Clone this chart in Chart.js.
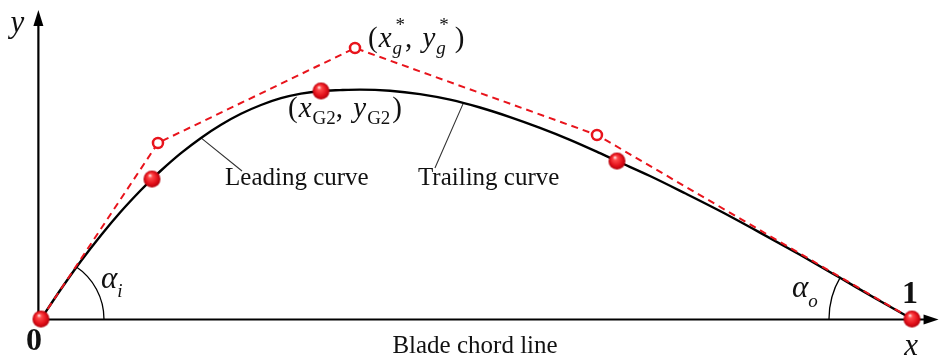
<!DOCTYPE html>
<html>
<head>
<meta charset="utf-8">
<script src="https://cdn.jsdelivr.net/npm/chart.js@4/dist/chart.umd.min.js"></script>
<style>
  html, body { margin: 0; padding: 0; background: #ffffff; }
  #wrap { width: 939px; height: 358px; }
</style>
</head>
<body>
<div id="wrap"><canvas id="blade" width="939" height="358"></canvas></div>
<script>
// Blade camber line, normalised by the chord (x/c, y/c): leading curve up to the G2 joint, then trailing curve
const camberX = [0, 0.0230, 0.0459, 0.0689, 0.0918, 0.1148, 0.1274, 0.1378, 0.1607, 0.1837,
                 0.2067, 0.2296, 0.2526, 0.2755, 0.2985, 0.3215,
                 0.3433, 0.3662, 0.4007, 0.4351, 0.4696, 0.5040, 0.5385, 0.5729, 0.6073,
                 0.6418, 0.6613, 0.6992, 0.7394, 0.7796, 0.8255, 0.8714, 0.9173, 0.9587, 1];
const camberY = [0, 0.0344, 0.0666, 0.0962, 0.1234, 0.1481, 0.1607, 0.1705, 0.1904, 0.2079,
                 0.2230, 0.2356, 0.2457, 0.2535, 0.2588, 0.2618,
                 0.2628, 0.2634, 0.2621, 0.2582, 0.2518, 0.2428, 0.2318, 0.2194, 0.2057,
                 0.1904, 0.1814, 0.1642, 0.1444, 0.1240, 0.0992, 0.0737, 0.0473, 0.0233, 0];

// Control polygon (dashed) with its open control points
const polyX = [0, 0.1343, 0.3605, 0.6383, 1];
const polyY = [0, 0.2021, 0.3111, 0.2113, 0];

// Points lying on the camber line: leading edge, leading point, G2 joint, trailing point, trailing edge
const knotX = [0, 0.1274, 0.3215, 0.6613, 1];
const knotY = [0, 0.1607, 0.2618, 0.1814, 0];

const zip = (xs, ys) => xs.map((x, i) => ({ x: x, y: ys[i] }));

const RED = '#e8141c';
const SERIF = "'Liberation Serif', 'Times New Roman', serif";

// Shaded red ball used as the marker for points on the curve
function makeBall(r) {
  const s = 2 * r + 2;
  const c = document.createElement('canvas');
  c.width = s; c.height = s;
  const g = c.getContext('2d');
  const cx = s / 2, cy = s / 2;
  const grad = g.createRadialGradient(cx - r * 0.25, cy - r * 0.45, r * 0.05, cx, cy, r);
  grad.addColorStop(0, '#ffe4e4');
  grad.addColorStop(0.22, '#ff4a4a');
  grad.addColorStop(0.7, '#e3101a');
  grad.addColorStop(1, '#b0000a');
  g.fillStyle = grad;
  g.beginPath();
  g.arc(cx, cy, r, 0, Math.PI * 2);
  g.fill();
  return c;
}
const ball = makeBall(8.5);

// Draws a run of text pieces; a piece may carry a stacked superscript
function drawRun(ctx, x, y, parts) {
  let cx = x;
  parts.forEach(p => {
    ctx.font = p.font;
    ctx.fillText(p.t, cx, y + (p.dy || 0));
    let w = ctx.measureText(p.t).width;
    if (p.sup) {
      ctx.font = p.sup.font;
      ctx.fillText(p.sup.t, cx + (p.sup.dx || 0), y + p.sup.dy);
      w = Math.max(w, ctx.measureText(p.sup.t).width + (p.sup.dx || 0));
    }
    cx += w + (p.gap || 0);
  });
}

const annotations = {
  id: 'bladeAnnotations',
  beforeDatasetsDraw(chart) {
    const ctx = chart.ctx;
    const X = v => chart.scales.x.getPixelForValue(v);
    const Y = v => chart.scales.y.getPixelForValue(v);
    ctx.save();
    ctx.strokeStyle = '#000';
    ctx.fillStyle = '#000';
    ctx.lineWidth = 2.2;

    // x axis (chord line) with arrow
    const x0 = X(-0.003), y0 = Y(0) + 0.5;
    const xTip = X(1.0305);
    ctx.beginPath();
    ctx.moveTo(x0, y0);
    ctx.lineTo(xTip - 10, y0);
    ctx.stroke();
    ctx.beginPath();
    ctx.moveTo(xTip, y0);
    ctx.lineTo(xTip - 15, y0 - 5);
    ctx.lineTo(xTip - 15, y0 + 5);
    ctx.closePath();
    ctx.fill();

    // y axis with arrow
    const yTip = Y(0.3548);
    ctx.beginPath();
    ctx.moveTo(x0, y0);
    ctx.lineTo(x0, yTip + 10);
    ctx.stroke();
    ctx.beginPath();
    ctx.moveTo(x0, yTip);
    ctx.lineTo(x0 - 5, yTip + 16);
    ctx.lineTo(x0 + 5, yTip + 16);
    ctx.closePath();
    ctx.fill();

    // inlet and outlet angle arcs
    ctx.lineWidth = 1.3;
    const unit = X(1) - X(0);
    ctx.beginPath();
    ctx.arc(X(0), Y(0), 0.0723 * unit, -56.5 * Math.PI / 180, 0);
    ctx.stroke();
    ctx.beginPath();
    ctx.arc(X(1), Y(0), 0.0953 * unit, Math.PI, Math.PI + 30.5 * Math.PI / 180);
    ctx.stroke();

    // leader lines to the curve labels
    ctx.strokeStyle = '#333';
    ctx.lineWidth = 1.1;
    ctx.beginPath();
    ctx.moveTo(X(0.1837), Y(0.2079));
    ctx.lineTo(X(0.2308), Y(0.1699));
    ctx.moveTo(X(0.4845), Y(0.2470));
    ctx.lineTo(X(0.4523), Y(0.1734));
    ctx.stroke();
    ctx.restore();
  },
  afterDatasetsDraw(chart) {
    const ctx = chart.ctx;
    const X = v => chart.scales.x.getPixelForValue(v);
    const Y = v => chart.scales.y.getPixelForValue(v);
    ctx.save();
    ctx.fillStyle = '#111';
    ctx.textBaseline = 'alphabetic';

    const reg = s => s + 'px ' + SERIF;
    const ita = s => 'italic ' + s + 'px ' + SERIF;
    const bold = s => 'bold ' + s + 'px ' + SERIF;

    // axis names and chord ends
    ctx.textAlign = 'center';
    ctx.font = ita(31);
    ctx.fillText('y', X(-0.0270), Y(0.3295));
    ctx.fillText('x', X(0.9989), Y(-0.0413));
    ctx.font = bold(32);
    ctx.fillText('0', X(-0.0080), Y(-0.0356));
    ctx.fillText('1', X(0.9977), Y(0.0184));
    ctx.font = reg(25);
    ctx.fillText('Blade chord line', X(0.4983), Y(-0.0390));

    ctx.textAlign = 'left';
    ctx.fillText('Leading curve', X(0.2113), Y(0.1538));
    ctx.fillText('Trailing curve', X(0.4328), Y(0.1538));

    // angle symbols
    drawRun(ctx, X(0.0689), Y(0.0356), [
      { t: '\u03b1', font: ita(31) },
      { t: 'i', font: ita(19), dy: 9 }
    ]);
    drawRun(ctx, X(0.8622), Y(0.0253), [
      { t: '\u03b1', font: ita(31) },
      { t: 'o', font: ita(19), dy: 10 }
    ]);

    // coordinates of the peak control point
    drawRun(ctx, X(0.3754), Y(0.3123), [
      { t: '(', font: reg(29), gap: 1 },
      { t: 'x', font: ita(29), gap: 1 },
      { t: 'g', font: ita(19), dy: 7, sup: { t: '*', font: reg(19), dy: -16, dx: 3 } },
      { t: ', ', font: reg(29), gap: 3 },
      { t: 'y', font: ita(29), gap: 1 },
      { t: 'g', font: ita(19), dy: 7, sup: { t: '*', font: reg(19), dy: -16, dx: 3 }, gap: 6 },
      { t: ')', font: reg(29) }
    ]);

    // coordinates of the G2 joint
    drawRun(ctx, X(0.2836), Y(0.2319), [
      { t: '(', font: reg(29), gap: 1 },
      { t: 'x', font: ita(29), gap: 1 },
      { t: 'G2', font: reg(19), dy: 7 },
      { t: ', ', font: reg(29), gap: 3 },
      { t: 'y', font: ita(29), gap: 1 },
      { t: 'G2', font: reg(19), dy: 7, gap: 2 },
      { t: ')', font: reg(29) }
    ]);
    ctx.restore();
  }
};

new Chart(document.getElementById('blade'), {
  type: 'scatter',
  data: {
    datasets: [
      {
        label: 'Points on curve',
        data: zip(knotX, knotY),
        pointStyle: ball,
        pointRadius: 8,
        showLine: false,
        order: 0
      },
      {
        label: 'Control polygon',
        data: zip(polyX, polyY),
        showLine: true,
        borderColor: RED,
        borderWidth: 2,
        borderDash: [7, 5],
        pointStyle: 'circle',
        pointRadius: polyX.map((v, i) => (i === 0 || i === polyX.length - 1) ? 0 : 5),
        pointBorderWidth: 2.5,
        pointBorderColor: RED,
        pointBackgroundColor: '#ffffff',
        order: 1
      },
      {
        label: 'Camber line',
        data: zip(camberX, camberY),
        showLine: true,
        borderColor: '#000000',
        borderWidth: 2.4,
        pointRadius: 0,
        cubicInterpolationMode: 'monotone',
        order: 2
      }
    ]
  },
  options: {
    responsive: false,
    animation: false,
    events: [],
    layout: { padding: 0, autoPadding: false },
    plugins: { legend: { display: false }, tooltip: { enabled: false } },
    scales: {
      x: { type: 'linear', min: -0.047072, max: 1.030999, display: false },
      y: { type: 'linear', min: -0.044776, max: 0.366246, display: false }
    }
  },
  plugins: [annotations]
});
</script>
</body>
</html>
